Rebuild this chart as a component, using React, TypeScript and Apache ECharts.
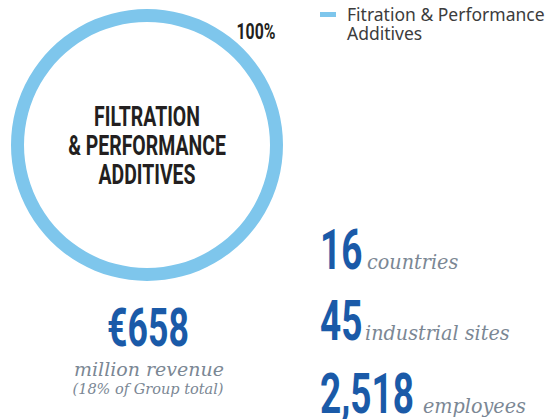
import React, { useEffect, useRef } from "react";
import * as echarts from "echarts";

const segmentNames = ["Fitration & Performance Additives"];
const segmentValues = [100];
const segmentLabels = ["100%"];
const centerLines = ["FILTRATION", "& PERFORMANCE", "ADDITIVES"];
const revenueValue = "€658";
const revenueLines = ["million revenue", "(18% of Group total)"];
const statNumbers = ["16", "45", "2,518"];
const statWords = ["countries", "industrial sites", "employees"];

const RING = "#7ec6ec";
const BLUE = "#1a5aa8";
const GREY = "#7b8794";
const DARK = "#231f20";
const COND = "Roboto, 'Noto Sans', sans-serif";
const SERIF = "'DejaVu Serif', 'Liberation Serif', serif";

export default function App() {
  const ref = useRef<HTMLDivElement>(null);
  useEffect(() => {
    if (!ref.current) return;
    const chart = echarts.init(ref.current, undefined, { renderer: "svg" });
    const cx = 147;
    const cy = 145;
    const statY = [250, 321, 394];
    const statWordX = [367, 365, 423];
    const graphic: any[] = [];
    centerLines.forEach((t, i) => {
      graphic.push({
        type: "text",
        x: cx,
        y: 117 + i * 29,
        scaleX: 0.72,
        style: {
          text: t,
          fill: DARK,
          font: `bold 27px ${COND}`,
          align: "center",
          verticalAlign: "middle",
        },
      });
    });
    graphic.push({
      type: "text",
      x: 256,
      y: 32,
      scaleX: 0.72,
      style: {
        text: segmentLabels[0],
        fill: DARK,
        font: `bold 22px ${COND}`,
        align: "center",
        verticalAlign: "middle",
      },
    });
    graphic.push({
      type: "text",
      x: 148,
      y: 328,
      scaleX: 0.66,
      style: {
        text: revenueValue,
        fill: BLUE,
        font: `bold 54px ${COND}`,
        align: "center",
        verticalAlign: "middle",
      },
    });
    graphic.push({
      type: "text",
      x: 149,
      y: 369,
      style: {
        text: revenueLines[0],
        fill: GREY,
        font: `italic 19px ${SERIF}`,
        align: "center",
        verticalAlign: "middle",
      },
    });
    graphic.push({
      type: "text",
      x: 148,
      y: 389,
      style: {
        text: revenueLines[1],
        fill: GREY,
        font: `italic 14.5px ${SERIF}`,
        align: "center",
        verticalAlign: "middle",
      },
    });
    statNumbers.forEach((n, i) => {
      graphic.push({
        type: "text",
        x: 320,
        y: statY[i],
        scaleX: 0.66,
        style: {
          text: n,
          fill: BLUE,
          font: `bold 56px ${COND}`,
          align: "left",
          verticalAlign: "middle",
        },
      });
      graphic.push({
        type: "text",
        x: statWordX[i],
        y: statY[i] + 22,
        scaleX: 0.96,
        style: {
          text: statWords[i],
          fill: GREY,
          font: `italic 20px ${SERIF}`,
          align: "left",
          verticalAlign: "bottom",
        },
      });
    });

    chart.setOption({
      animation: false,
      legend: {
        left: 320,
        top: 5,
        padding: 0,
        icon: "path://M0,0h16v5h-16zM22,23h0.01v0.01h-0.01z",
        itemWidth: 22,
        itemHeight: 23,
        itemGap: 10,
        selectedMode: false,
        formatter: (name: string) => name.replace("Performance ", "Performance\n"),
        textStyle: {
          color: "#3c3c3c",
          fontFamily: "'Noto Sans', sans-serif",
          fontSize: 17.5,
          lineHeight: 18.5,
        },
        data: segmentNames,
      },
      series: [
        {
          type: "pie",
          center: [cx, cy],
          radius: [123, 136],
          silent: true,
          label: { show: false },
          labelLine: { show: false },
          itemStyle: { color: RING },
          data: segmentNames.map((n, i) => ({ name: n, value: segmentValues[i] })),
        },
      ],
      graphic,
    });
    return () => chart.dispose();
  }, []);
  return (
    <div
      ref={ref}
      style={{ position: "absolute", left: 0, top: 0, width: 553, height: 419, background: "#fff" }}
    />
  );
}
